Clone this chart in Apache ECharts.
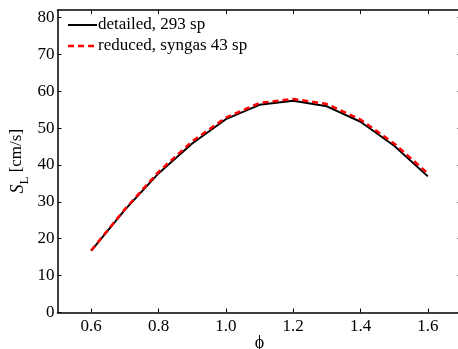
<!DOCTYPE html>
<html>
<head>
<meta charset="utf-8">
<script src="https://cdn.jsdelivr.net/npm/echarts@6/dist/echarts.min.js"></script>
<style>html,body{margin:0;padding:0;background:#fff;}#c{width:458px;height:349px;}</style>
</head>
<body>
<div id="c"></div>
<script>
const phi = [0.6, 0.7, 0.8, 0.9, 1.0, 1.1, 1.2, 1.3, 1.4, 1.5, 1.6];
const detailed = [16.7, 27.8, 37.7, 45.8, 52.4, 56.3, 57.4, 55.9, 51.7, 45.2, 36.9];
const reduced = [16.8, 28.0, 38.1, 46.4, 52.8, 56.8, 57.9, 56.5, 52.3, 45.8, 37.7];
const xTicks = [0.6, 0.8, 1.0, 1.2, 1.4, 1.6];
const yTicks = [0, 10, 20, 30, 40, 50, 60, 70, 80];
const names = ['detailed, 293 sp', 'reduced, syngas 43 sp'];

const font = 'Liberation Serif';
const chart = echarts.init(document.getElementById('c'), null, {renderer: 'canvas'});
const axisLine = {show: true, onZero: false, lineStyle: {color: '#000', width: 1.5}};
const tick = {show: true, inside: true, length: 4, lineStyle: {color: '#000', width: 1}};
chart.setOption({
  animation: false,
  backgroundColor: '#fff',
  grid: {left: 57.5, top: 10, width: 404, bottom: 36.5, containLabel: false, outerBoundsMode: 'none'},
  graphic: [
    {type: 'line', shape: {x1: 68, y1: 25, x2: 97, y2: 25}, style: {stroke: '#000', lineWidth: 2}},
    {type: 'text', left: 98, top: 16, style: {text: names[0], fontFamily: font, fontSize: 17, fill: '#000'}},
    {type: 'line', shape: {x1: 68, y1: 46, x2: 97, y2: 46}, style: {stroke: '#ff0000', lineWidth: 2.5, lineDash: [6, 4]}},
    {type: 'text', left: 98, top: 37, style: {text: names[1], fontFamily: font, fontSize: 17, fill: '#000'}}
  ],
  xAxis: [{
    type: 'value', min: 0.5, max: 1.7, position: 'bottom',
    axisLine: axisLine,
    axisTick: Object.assign({customValues: xTicks}, tick),
    axisLabel: {customValues: xTicks, formatter: v => v.toFixed(1), fontFamily: font, fontSize: 17, color: '#000', margin: 6},
    splitLine: {show: false},
    name: 'ϕ', nameLocation: 'middle', nameGap: 22, nameMoveOverlap: false,
    nameTextStyle: {fontFamily: font, fontSize: 18, color: '#000', verticalAlign: 'top'}
  }, {
    type: 'value', min: 0.5, max: 1.7, position: 'top',
    axisLine: axisLine,
    axisTick: Object.assign({customValues: xTicks}, tick),
    axisLabel: {show: false}, splitLine: {show: false}
  }],
  yAxis: [{
    type: 'value', min: 0, max: 82, position: 'left',
    axisLine: axisLine,
    axisTick: Object.assign({customValues: yTicks}, tick),
    axisLabel: {customValues: yTicks, fontFamily: font, fontSize: 17, color: '#000', margin: 3},
    splitLine: {show: false},
    name: '{s|S}{sub|L} [cm/s]', nameLocation: 'middle', nameGap: 30, nameRotate: 90, nameMoveOverlap: false,
    nameTextStyle: {
      fontFamily: font, fontSize: 17, color: '#000',
      rich: {
        s: {fontFamily: font, fontSize: 18, fontStyle: 'italic', color: '#000', lineHeight: 22, verticalAlign: 'bottom'},
        sub: {fontFamily: font, fontSize: 13, color: '#000', lineHeight: 14, verticalAlign: 'bottom', padding: [0, 0, -4, 0]}
      }
    }
  }, {
    type: 'value', min: 0, max: 82, position: 'right',
    axisLine: axisLine,
    axisTick: Object.assign({customValues: yTicks}, tick),
    axisLabel: {show: false}, splitLine: {show: false}
  }],
  series: [{
    name: names[0], type: 'line', showSymbol: false, symbol: 'none',
    data: phi.map((p, i) => [p, detailed[i]]),
    lineStyle: {color: '#000', width: 2}, itemStyle: {color: '#000'}
  }, {
    name: names[1], type: 'line', showSymbol: false, symbol: 'none',
    data: phi.map((p, i) => [p, reduced[i]]),
    lineStyle: {color: '#ff0000', width: 2.5, type: [6, 4]}, itemStyle: {color: '#ff0000'}
  }]
});
</script>
</body>
</html>
